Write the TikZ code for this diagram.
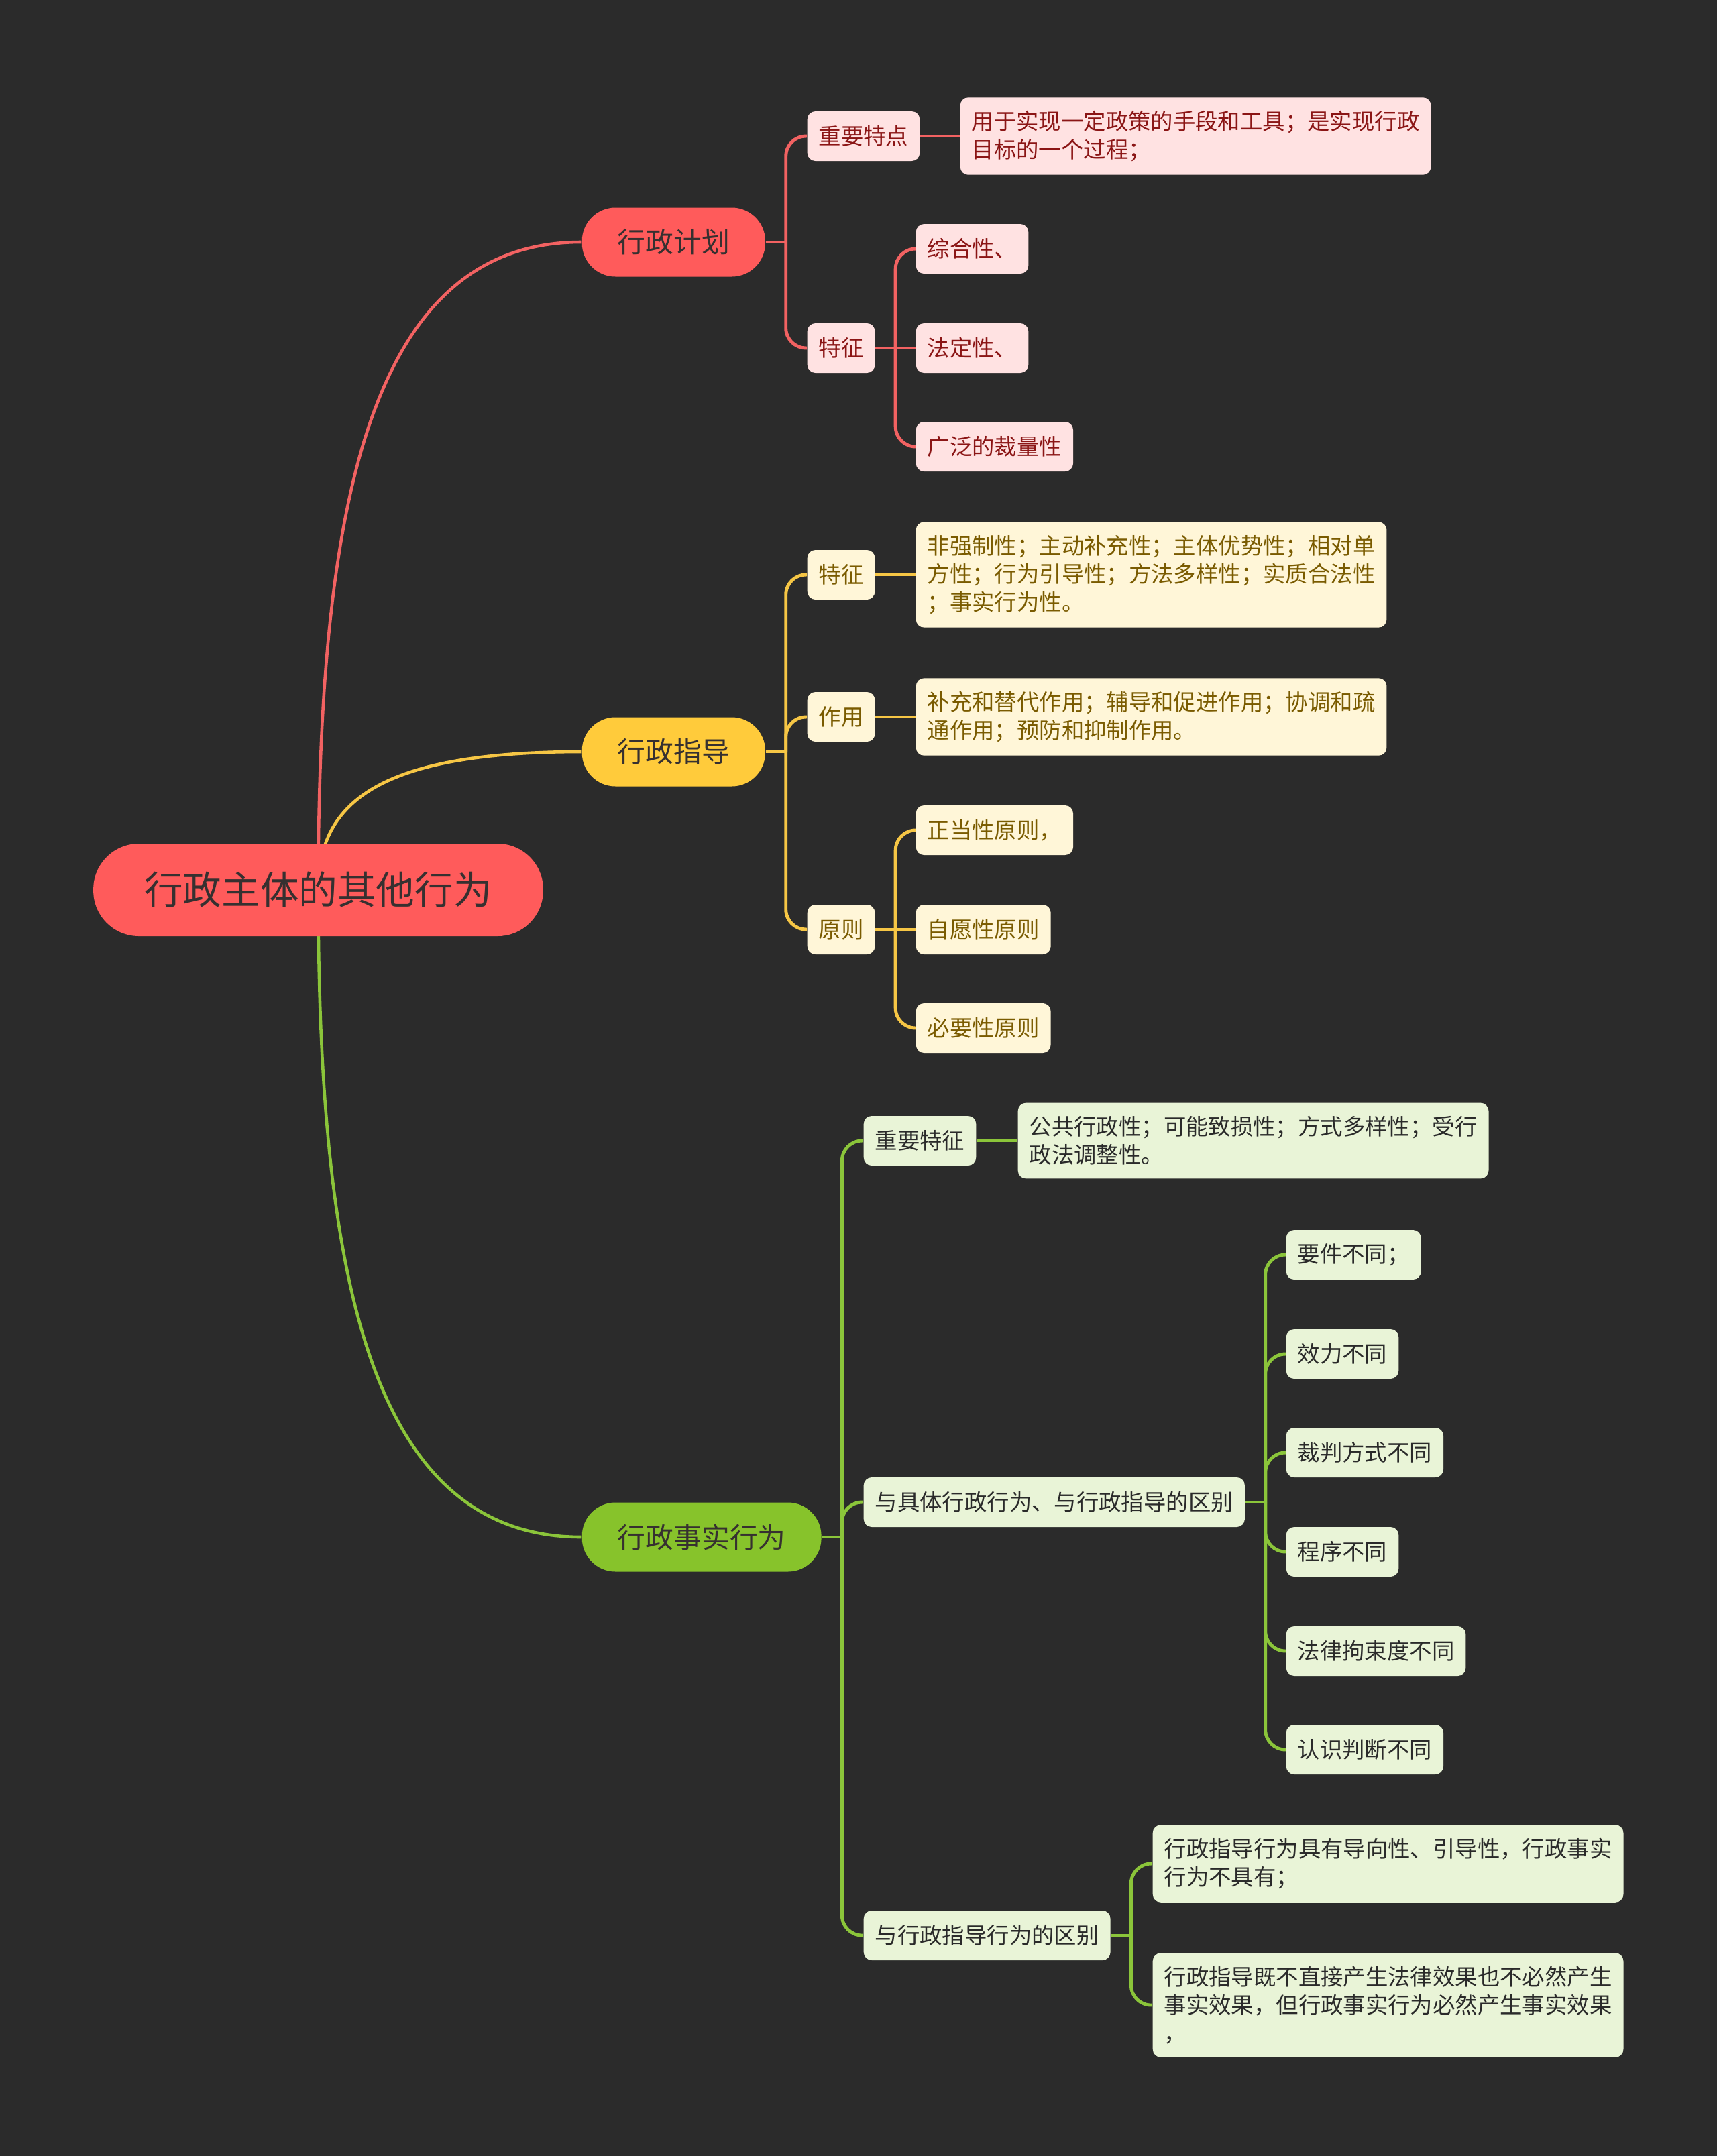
\documentclass[tikz,border=0pt]{standalone}
\usepackage{fontspec}
\setmainfont{Noto Sans CJK SC}
\usepackage{xcolor}
\usepackage{tikz}
\usetikzlibrary{calc}
\definecolor{bgcol}{HTML}{2B2B2B}
\definecolor{redmain}{HTML}{FF5B5B}
\definecolor{redwire}{HTML}{F26262}
\definecolor{redpale}{HTML}{FFE2E2}
\definecolor{redink}{HTML}{8B1515}
\definecolor{yelmain}{HTML}{FFCB3B}
\definecolor{yelwire}{HTML}{F6C645}
\definecolor{yelpale}{HTML}{FFF6D8}
\definecolor{yelink}{HTML}{7A5B00}
\definecolor{grnmain}{HTML}{87C32B}
\definecolor{grnwire}{HTML}{8BC53A}
\definecolor{grnpale}{HTML}{E9F4D7}
\definecolor{grnink}{HTML}{2A2A2A}
\definecolor{darkink}{HTML}{363030}
\newcommand{\leaffont}{\fontsize{9.5pt}{11.9pt}\selectfont}
\tikzstyle{rootbox} = [rectangle, rounded corners=0.68cm, minimum height=1.38cm, inner xsep=0.76cm, inner ysep=0.1cm, fill=redmain, text=darkink, font=\fontsize{16.4pt}{19pt}\selectfont]
\tikzstyle{mainbox} = [rectangle, rounded corners=0.5cm, minimum height=1.03cm, inner xsep=0.53cm, inner ysep=0.1cm, text=darkink, anchor=west, font=\fontsize{11.9pt}{14pt}\selectfont]
\tikzstyle{leaf} = [rectangle, rounded corners=0.12cm, minimum height=0.74cm, inner xsep=0.17cm, inner ysep=0.2cm, align=left, anchor=west, font=\leaffont]
\tikzstyle{redleaf} = [leaf, fill=redpale, text=redink]
\tikzstyle{yelleaf} = [leaf, fill=yelpale, text=yelink]
\tikzstyle{grnleaf} = [leaf, fill=grnpale, text=grnink]
\tikzstyle{wire} = [line width=1.4pt, rounded corners=0.3cm]
\tikzstyle{redline} = [wire, draw=redwire]
\tikzstyle{yelline} = [wire, draw=yelwire]
\tikzstyle{grnline} = [wire, draw=grnwire]

\begin{document}
\begin{tikzpicture}
	\fill[bgcol] (0,0) rectangle (25.6,-32.15);
	\useasboundingbox (0,0) rectangle (25.6,-32.15);
	\coordinate (rootc) at (4.745,-13.27);
	
	\node (plan) [mainbox, fill=redmain] at (8.67,-3.61) {行政计划};
	\node (guide) [mainbox, fill=yelmain] at (8.67,-11.21) {行政指导};
	\node (fact) [mainbox, fill=grnmain] at (8.67,-22.92) {行政事实行为};
	
	\node (plankey) [redleaf] at (12.03,-2.03) {重要特点};
	\node (plankeyt) [redleaf] at (14.31,-2.03) {用于实现一定政策的手段和工具；是实现行政\\目标的一个过程；};
	\node (planfeat) [redleaf] at (12.03,-5.19) {特征};
	\node (planfa) [redleaf] at (13.65,-3.71) {综合性、};
	\node (planfb) [redleaf] at (13.65,-5.19) {法定性、};
	\node (planfc) [redleaf] at (13.65,-6.66) {广泛的裁量性};
	
	\node (guidefeat) [yelleaf] at (12.03,-8.57) {特征};
	\node (guidefeatt) [yelleaf] at (13.65,-8.57) {非强制性；主动补充性；主体优势性；相对单\\方性；行为引导性；方法多样性；实质合法性\\；事实行为性。};
	\node (guideuse) [yelleaf] at (12.03,-10.69) {作用};
	\node (guideuset) [yelleaf] at (13.65,-10.69) {补充和替代作用；辅导和促进作用；协调和疏\\通作用；预防和抑制作用。};
	\node (guideprin) [yelleaf] at (12.03,-13.86) {原则};
	\node (guidepa) [yelleaf] at (13.65,-12.38) {正当性原则，};
	\node (guidepb) [yelleaf] at (13.65,-13.86) {自愿性原则};
	\node (guidepc) [yelleaf] at (13.65,-15.33) {必要性原则};
	
	\node (factkey) [grnleaf] at (12.87,-17.01) {重要特征};
	\node (factkeyt) [grnleaf] at (15.17,-17.01) {公共行政性；可能致损性；方式多样性；受行\\政法调整性。};
	\node (factdiff) [grnleaf] at (12.87,-22.40) {与具体行政行为、与行政指导的区别};
	\node (factda) [grnleaf] at (19.17,-18.71) {要件不同；};
	\node (factdb) [grnleaf] at (19.17,-20.19) {效力不同};
	\node (factdc) [grnleaf] at (19.17,-21.66) {裁判方式不同};
	\node (factdd) [grnleaf] at (19.17,-23.14) {程序不同};
	\node (factde) [grnleaf] at (19.17,-24.62) {法律拘束度不同};
	\node (factdf) [grnleaf] at (19.17,-26.09) {认识判断不同};
	\node (factgd) [grnleaf] at (12.87,-28.86) {与行政指导行为的区别};
	\node (factga) [grnleaf] at (17.18,-27.79) {行政指导行为具有导向性、引导性，行政事实\\行为不具有；};
	\node (factgb) [grnleaf] at (17.18,-29.90) {行政指导既不直接产生法律效果也不必然产生\\事实效果，但行政事实行为必然产生事实效果\\，};
	
	%分支连线
	\coordinate (jplan) at ($(plan.east)+(0.3,0)$);
	\coordinate (jplanfeat) at ($(planfeat.east)+(0.3,0)$);
	\coordinate (jguide) at ($(guide.east)+(0.3,0)$);
	\coordinate (jguideprin) at ($(guideprin.east)+(0.3,0)$);
	\coordinate (jfact) at ($(fact.east)+(0.3,0)$);
	\coordinate (jfactdiff) at ($(factdiff.east)+(0.3,0)$);
	\coordinate (jfactgd) at ($(factgd.east)+(0.3,0)$);
	
	\foreach \n/\s in {plan/redline, guide/yelline, fact/grnline}
		\draw [\s, line width=1.3pt](rootc) .. controls ($(rootc)!0.6!(rootc |- \n.west)$) and ($(rootc |- \n.west)!0.2!(\n.west)$) .. (\n.west);
	
	\draw [redline](plan.east) -- (jplan);
	\draw [redline](jplan) |- (plankey.west);
	\draw [redline](jplan) |- (planfeat.west);
	\draw [redline](plankey) -- (plankeyt);
	\draw [redline](planfeat.east) -- (jplanfeat);
	\draw [redline](jplanfeat) |- (planfa.west);
	\draw [redline](jplanfeat) -- (planfb.west);
	\draw [redline](jplanfeat) |- (planfc.west);
	
	\draw [yelline](guide.east) -- (jguide);
	\draw [yelline](jguide) |- (guidefeat.west);
	\draw [yelline](jguide) |- (guideuse.west);
	\draw [yelline](jguide) |- (guideprin.west);
	\draw [yelline](guidefeat) -- (guidefeatt);
	\draw [yelline](guideuse) -- (guideuset);
	\draw [yelline](guideprin.east) -- (jguideprin);
	\draw [yelline](jguideprin) |- (guidepa.west);
	\draw [yelline](jguideprin) -- (guidepb.west);
	\draw [yelline](jguideprin) |- (guidepc.west);
	
	\draw [grnline](fact.east) -- (jfact);
	\draw [grnline](jfact) |- (factkey.west);
	\draw [grnline](jfact) |- (factdiff.west);
	\draw [grnline](jfact) |- (factgd.west);
	\draw [grnline](factkey) -- (factkeyt);
	\draw [grnline](factdiff.east) -- (jfactdiff);
	\foreach \n in {factda,factdb,factdc,factdd,factde,factdf}
		\draw [grnline](jfactdiff) |- (\n.west);
	\draw [grnline](factgd.east) -- (jfactgd);
	\draw [grnline](jfactgd) |- (factga.west);
	\draw [grnline](jfactgd) |- (factgb.west);
	
	\node (root) [rootbox] at (rootc) {行政主体的其他行为};
\end{tikzpicture}
\end{document}
